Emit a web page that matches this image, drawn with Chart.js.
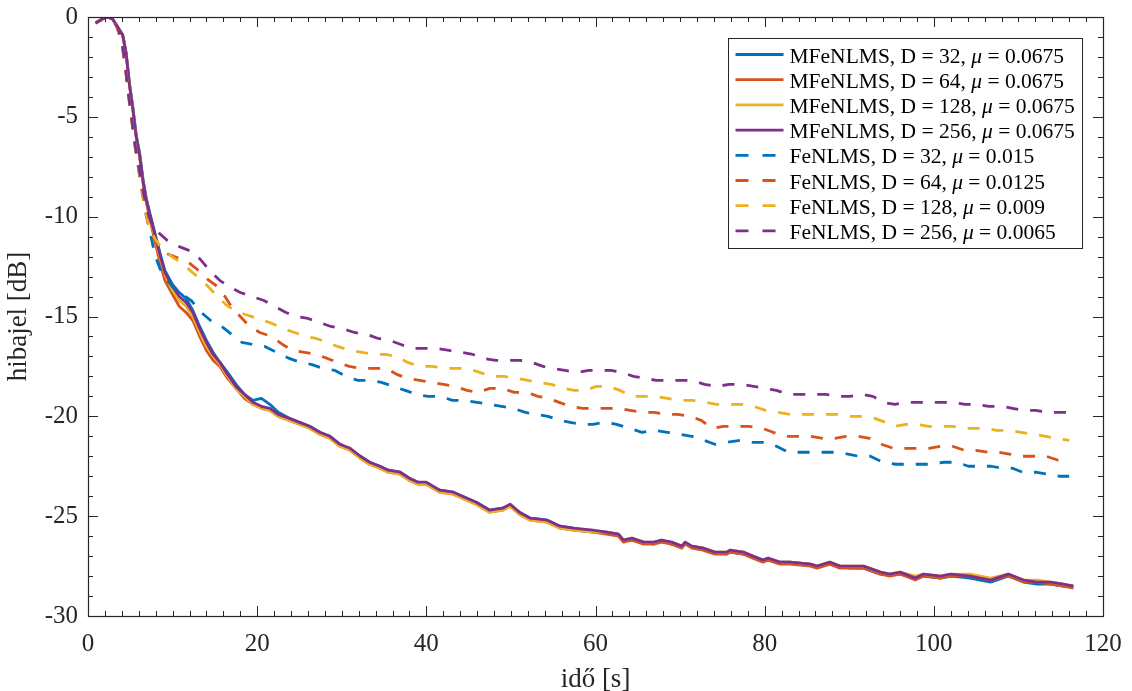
<!DOCTYPE html>
<html><head><meta charset="utf-8">
<script src="https://cdn.jsdelivr.net/npm/chart.js@4/dist/chart.umd.min.js"></script>
<style>html,body{margin:0;padding:0;background:#fff;overflow:hidden}canvas{display:block}</style>
</head><body>
<canvas id="c" width="1132" height="691"></canvas>
<script>
// ---- tick labels ----
const xTickLabels = [0, 20, 40, 60, 80, 100, 120];
const yTickLabels = [-30, -25, -20, -15, -10, -5, 0];

// ---- legend / series names ----
const seriesNames = ['MFeNLMS, D = 32, ', 'MFeNLMS, D = 64, ', 'MFeNLMS, D = 128, ', 'MFeNLMS, D = 256, ',
                     'FeNLMS, D = 32, ', 'FeNLMS, D = 64, ', 'FeNLMS, D = 128, ', 'FeNLMS, D = 256, '];
const seriesMu = ['0.0675', '0.0675', '0.0675', '0.0675', '0.015', '0.0125', '0.009', '0.0065'];
const seriesColors = ['#0072BD', '#D95319', '#EDB120', '#7E2F8E', '#0072BD', '#D95319', '#EDB120', '#7E2F8E'];

// ---- MFeNLMS (solid) : shared time axis [s], error [dB] ----
const tSolid = [0.9,1.7,2.3,2.9,3.5,4.1,4.5,4.9,5.3,5.7,6.1,6.5,6.9,7.3,7.9,8.5,9.1,10,10.8,11.6,12.4,13.2,14,14.8,15.6,16.5,17.5,18.5,19.5,20.5,21.5,22.5,23.8,25,26.2,27.4,28.6,29.8,31,32.2,33.3,34.5,35.5,36.9,38,39,40,41.6,43.2,44.8,45.9,47.5,49,49.9,51,52.3,54.3,55.8,57.4,59.7,61.3,62.7,63.3,64.3,65.7,66.9,67.8,69,70.2,70.6,71.4,72.7,74.1,75.5,75.9,77.5,78.6,79.8,80.4,81.8,83,85.4,86.2,87.7,88.9,90.1,91.7,93.7,94.8,96,97.8,98.8,100.8,102,104.3,106.7,108.8,110.6,112.2,113.8,115.3,116.5];
const mf32 = [-0.3,-0.1,0,-0.1,-0.5,-0.9,-1.8,-3.3,-4.5,-5.9,-6.8,-8.1,-9.1,-9.8,-10.8,-11.8,-12.7,-13.4,-13.8,-14.1,-14.7,-15.5,-16.2,-16.8,-17.3,-17.8,-18.4,-18.9,-19.2,-19.1,-19.4,-19.8,-20.1,-20.3,-20.5,-20.8,-21.0,-21.4,-21.7,-22.0,-22.3,-22.5,-22.7,-22.8,-23.1,-23.3,-23.4,-23.7,-23.8,-24.1,-24.3,-24.7,-24.6,-24.5,-24.8,-25.1,-25.2,-25.5,-25.6,-25.8,-25.8,-25.9,-26.2,-26.2,-26.3,-26.4,-26.2,-26.4,-26.5,-26.4,-26.5,-26.6,-26.8,-26.9,-26.8,-26.9,-27.0,-27.2,-27.2,-27.3,-27.3,-27.4,-27.5,-27.4,-27.5,-27.6,-27.6,-27.9,-27.9,-27.9,-28.1,-28.0,-28.1,-28.0,-28.1,-28.3,-28.0,-28.3,-28.4,-28.4,-28.5,-28.5];
const mf64 = [-0.3,-0.1,0,-0.1,-0.5,-0.9,-1.8,-3.4,-4.6,-6.0,-7.0,-8.3,-9.3,-10.1,-11.2,-12.3,-13.2,-13.9,-14.5,-14.8,-15.2,-16.0,-16.7,-17.2,-17.5,-18.1,-18.6,-19.1,-19.4,-19.6,-19.7,-20.0,-20.2,-20.4,-20.6,-20.9,-21.1,-21.5,-21.7,-22.1,-22.4,-22.6,-22.8,-22.9,-23.2,-23.4,-23.4,-23.8,-23.9,-24.2,-24.4,-24.8,-24.7,-24.5,-24.9,-25.2,-25.3,-25.6,-25.7,-25.8,-25.9,-26.0,-26.3,-26.2,-26.4,-26.4,-26.3,-26.4,-26.6,-26.4,-26.6,-26.7,-26.9,-26.9,-26.8,-26.9,-27.1,-27.3,-27.2,-27.4,-27.4,-27.5,-27.6,-27.4,-27.6,-27.6,-27.6,-27.9,-28.0,-27.9,-28.2,-28.0,-28.1,-28.0,-28.0,-28.2,-28.0,-28.3,-28.3,-28.4,-28.5,-28.6];
const mf128 = [-0.3,-0.1,0,-0.1,-0.5,-0.9,-1.8,-3.4,-4.6,-6.0,-6.9,-8.2,-9.2,-10.0,-11.0,-12.0,-12.9,-13.7,-14.2,-14.5,-15.0,-15.8,-16.5,-17.0,-17.4,-18.0,-18.6,-19.0,-19.4,-19.6,-19.7,-20.0,-20.2,-20.4,-20.6,-20.9,-21.1,-21.5,-21.7,-22.1,-22.4,-22.6,-22.8,-22.9,-23.2,-23.4,-23.4,-23.8,-23.9,-24.2,-24.4,-24.8,-24.7,-24.5,-24.9,-25.2,-25.3,-25.6,-25.7,-25.8,-25.8,-25.9,-26.2,-26.1,-26.3,-26.3,-26.2,-26.3,-26.5,-26.3,-26.5,-26.6,-26.8,-26.8,-26.7,-26.8,-27.0,-27.2,-27.1,-27.3,-27.3,-27.4,-27.5,-27.3,-27.5,-27.5,-27.5,-27.8,-27.9,-27.8,-28.0,-27.9,-28.0,-27.9,-27.9,-28.1,-27.9,-28.2,-28.2,-28.3,-28.4,-28.5];
const mf256 = [-0.3,-0.1,0,-0.1,-0.5,-0.9,-1.8,-3.4,-4.6,-6.0,-6.9,-8.2,-9.2,-9.9,-10.9,-11.9,-12.8,-13.5,-14.0,-14.3,-14.8,-15.6,-16.3,-16.9,-17.3,-17.9,-18.5,-18.9,-19.3,-19.5,-19.6,-19.9,-20.1,-20.3,-20.5,-20.8,-21.0,-21.4,-21.6,-22.0,-22.3,-22.5,-22.7,-22.8,-23.1,-23.3,-23.3,-23.7,-23.8,-24.1,-24.3,-24.7,-24.6,-24.4,-24.8,-25.1,-25.2,-25.5,-25.6,-25.7,-25.8,-25.9,-26.2,-26.1,-26.3,-26.3,-26.2,-26.3,-26.5,-26.3,-26.5,-26.6,-26.8,-26.8,-26.7,-26.8,-27.0,-27.2,-27.1,-27.3,-27.3,-27.4,-27.5,-27.3,-27.5,-27.5,-27.5,-27.8,-27.9,-27.8,-28.1,-27.9,-28.0,-27.9,-28.0,-28.2,-27.9,-28.2,-28.3,-28.3,-28.4,-28.5];

// ---- FeNLMS (dashed) ----
const tFe32 = [0.9,1.7,2.3,2.9,3.5,4.0,4.4,4.8,5.2,5.6,6.0,6.4,6.8,7.2,7.9,8.5,9.4,10.2,11.2,12.2,13.4,14.5,15.8,17,18.2,19.5,20.9,22.3,23.8,25.1,26.4,27.8,29.2,30.5,31.9,33.3,34.7,36.1,37.5,38.8,40.2,41.6,43.1,44.5,46,47.4,48.9,50.3,51.7,53,54.4,55.7,57,58.3,59.7,61.1,62.5,64,65.5,67,68.5,70,71.4,72.8,74.1,75.6,77.1,78.6,80,81.4,82.8,84.2,85.7,87.2,88.7,90,91.1,92.5,94,95.5,97,98.4,99.7,101.2,102.7,104.1,105.5,106.8,108,109.3,110.5,112,113.5,114.8,116];
const fe32 = [-0.3,-0.1,0,-0.1,-0.6,-1.2,-2.3,-3.8,-5.0,-6.3,-7.4,-8.6,-9.6,-10.5,-11.9,-12.6,-13.2,-13.6,-13.9,-14.2,-14.8,-15.2,-15.5,-15.9,-16.3,-16.4,-16.5,-16.8,-17.1,-17.3,-17.4,-17.6,-17.7,-18.0,-18.2,-18.2,-18.3,-18.5,-18.7,-18.9,-19.0,-19.0,-19.2,-19.2,-19.3,-19.4,-19.5,-19.6,-19.8,-19.9,-20.0,-20.2,-20.3,-20.4,-20.4,-20.3,-20.4,-20.6,-20.8,-20.7,-20.8,-20.9,-21.0,-21.2,-21.4,-21.3,-21.2,-21.3,-21.3,-21.5,-21.8,-21.8,-21.8,-21.8,-21.8,-21.9,-22.0,-22.0,-22.3,-22.4,-22.4,-22.4,-22.4,-22.3,-22.3,-22.5,-22.5,-22.5,-22.6,-22.6,-22.8,-22.8,-22.9,-23.0,-23.0];
const tFe64 = [0.9,1.7,2.3,2.9,3.5,4.0,4.4,4.8,5.2,5.6,6.0,6.4,6.8,7.2,7.9,8.5,9.0,10.2,11.6,12.8,14.0,15.3,16.2,17.1,18.0,18.9,20.3,21.7,23,24.2,25.6,27,28.3,29.5,30.9,32.3,33.8,35.3,36.5,37.8,39.2,40.6,42,43.4,44.8,46.1,47.5,48.9,50.4,51.9,53.2,54.4,55.7,57,58.5,59.9,61.3,62.7,64.1,65.5,66.9,68.2,69.7,71.2,72.5,73.8,75.1,76.5,78.1,79.7,81,82.4,83.9,85.4,86.9,88.3,89.6,91,92.4,93.8,95.2,96.7,98,99.4,100.8,102.2,103.6,105,106.4,107.7,109.1,110.5,111.9,113.3,114.7,116];
const fe64 = [-0.3,-0.1,0,-0.1,-0.6,-1.3,-2.5,-4.0,-5.3,-6.6,-7.7,-8.8,-9.8,-10.5,-11.2,-11.6,-11.8,-12.0,-12.2,-12.6,-13.1,-13.5,-14.0,-14.6,-15.0,-15.4,-15.8,-16.0,-16.4,-16.7,-16.8,-16.9,-17.1,-17.3,-17.5,-17.6,-17.6,-17.6,-17.9,-18.1,-18.2,-18.3,-18.4,-18.5,-18.7,-18.8,-18.6,-18.6,-18.8,-18.8,-19.0,-19.1,-19.3,-19.5,-19.6,-19.6,-19.6,-19.6,-19.7,-19.8,-19.8,-19.9,-19.9,-20.0,-20.2,-20.6,-20.5,-20.5,-20.5,-20.6,-20.8,-21.0,-21.0,-21.0,-21.1,-21.1,-21.0,-21.0,-21.1,-21.4,-21.6,-21.6,-21.6,-21.6,-21.5,-21.5,-21.7,-21.7,-21.8,-21.8,-21.9,-22.0,-22.0,-22.0,-22.2,-22.3];
const tFe128 = [0.9,1.7,2.3,2.9,3.5,4.0,4.4,4.8,5.2,5.6,6.0,6.4,6.8,7.2,7.9,8.8,9.9,11,12.1,13.2,14.2,15.3,16.3,17.3,18.6,20,21.5,23,24.4,25.8,27,28.3,29.5,31,32.4,33.9,35.2,36.5,37.8,39.2,40.7,42.2,43.5,44.9,46.3,47.7,49.2,50.7,52,53.4,54.8,56.2,57.5,58.8,60.1,61.5,62.9,64.3,65.7,67,68.5,70,71.5,73,74.3,75.7,77.2,78.7,80.1,81.5,83,84.4,85.8,87.2,88.7,90.1,91.5,93,94.3,95.4,96.7,98,99.4,100.8,102.2,103.5,104.8,106,107.4,108.8,110.3,111.8,113.2,114.5,116];
const fe128 = [-0.3,-0.1,0,-0.1,-0.6,-1.3,-2.4,-3.9,-5.2,-6.5,-7.6,-8.7,-9.7,-10.4,-11.1,-11.6,-12.0,-12.3,-12.7,-13.1,-13.5,-14.0,-14.4,-14.7,-14.9,-15.1,-15.3,-15.6,-15.8,-16.0,-16.1,-16.3,-16.5,-16.7,-16.8,-16.9,-16.9,-17.0,-17.3,-17.5,-17.5,-17.6,-17.6,-17.6,-17.8,-18.0,-18.0,-18.1,-18.2,-18.3,-18.4,-18.6,-18.7,-18.7,-18.5,-18.5,-18.7,-19.0,-19.0,-19.0,-19.1,-19.2,-19.2,-19.3,-19.4,-19.4,-19.4,-19.5,-19.7,-19.8,-19.9,-19.9,-19.9,-19.9,-19.9,-20.0,-20.0,-20.1,-20.3,-20.5,-20.4,-20.4,-20.5,-20.5,-20.5,-20.6,-20.6,-20.6,-20.7,-20.7,-20.8,-20.9,-21.0,-21.1,-21.2];
const tFe256 = [0.9,1.7,2.3,2.9,3.5,4.0,4.4,4.8,5.2,5.6,6.0,6.4,6.8,7.2,7.8,8.6,9.4,10.2,11.4,12.6,13.6,14.6,15.6,16.7,18,19.4,20.8,22.1,23.4,24.7,26,27.4,28.7,30,31.5,33,34.3,35.7,37,38.3,39.8,41.2,42.7,44.2,45.5,46.7,48.2,49.7,51.1,52.5,53.8,55,56.4,57.8,59.2,60.5,61.8,63.1,64.5,65.9,67.2,68.6,70,71.4,72.9,74.4,75.8,77.3,78.7,80,81.4,82.8,84.3,85.7,87.2,88.6,90,91.5,92.8,94,95.4,96.8,98.2,99.5,100.9,102.3,103.7,105.1,106.5,108,109.3,110.5,112,113.5,114.8,116];
const fe256 = [-0.3,-0.1,0,-0.1,-0.5,-1.2,-2.4,-3.9,-5.2,-6.5,-7.5,-8.5,-9.3,-10.0,-10.6,-10.9,-11.2,-11.4,-11.6,-11.8,-12.3,-12.8,-13.2,-13.5,-13.8,-14.0,-14.2,-14.5,-14.8,-15.0,-15.1,-15.3,-15.5,-15.6,-15.8,-15.9,-16.1,-16.2,-16.4,-16.6,-16.6,-16.6,-16.7,-16.8,-16.9,-17.1,-17.2,-17.2,-17.2,-17.3,-17.5,-17.6,-17.7,-17.8,-17.7,-17.7,-17.7,-17.8,-18.0,-18.1,-18.2,-18.2,-18.2,-18.2,-18.4,-18.5,-18.4,-18.4,-18.5,-18.6,-18.7,-18.9,-18.9,-18.9,-18.9,-19.0,-19.0,-18.9,-19.0,-19.3,-19.4,-19.3,-19.3,-19.3,-19.3,-19.3,-19.4,-19.4,-19.5,-19.5,-19.6,-19.7,-19.7,-19.8,-19.8,-19.8];

const FONT = 'Liberation Serif';
const AXIS_COLOR = '#262626';
const DASH = [12, 12];
const LEG_FONT = 21.5;

function pts(ts, vs) { return ts.map((t, i) => ({ x: t, y: vs[i] })); }

const seriesData = [
  pts(tSolid, mf32), pts(tSolid, mf64), pts(tSolid, mf128), pts(tSolid, mf256),
  pts(tFe32, fe32), pts(tFe64, fe64), pts(tFe128, fe128), pts(tFe256, fe256)
];

const datasets = seriesData.map((d, i) => ({
  label: seriesNames[i] + 'μ = ' + seriesMu[i],
  data: d,
  borderColor: seriesColors[i],
  backgroundColor: seriesColors[i],
  borderWidth: 2.8,
  borderDash: i >= 4 ? DASH : [],
  pointRadius: 0,
  fill: false,
  tension: 0,
  order: 8 - i
}));

const framePlugin = {
  id: 'frame',
  afterDatasetsDraw(chart) {
    const { ctx, scales: { x, y } } = chart;
    const L = x.getPixelForValue(x.min), R = x.getPixelForValue(x.max);
    const T = y.getPixelForValue(y.max), B = y.getPixelForValue(y.min);
    ctx.save();
    ctx.strokeStyle = AXIS_COLOR;
    ctx.lineWidth = 1;
    ctx.beginPath();
    for (let v = x.min; v <= x.max + 1e-9; v += 2) {
      const px = Math.round(x.getPixelForValue(v)) + 0.5;
      const len = (v % 20 === 0) ? 10 : 5;
      ctx.moveTo(px, B); ctx.lineTo(px, B - len);
      ctx.moveTo(px, T); ctx.lineTo(px, T + len);
    }
    for (let v = y.min; v <= y.max + 1e-9; v += 1) {
      const py = Math.round(y.getPixelForValue(v)) + 0.5;
      const len = (v % 5 === 0) ? 10 : 5;
      ctx.moveTo(L, py); ctx.lineTo(L + len, py);
      ctx.moveTo(R, py); ctx.lineTo(R - len, py);
    }
    ctx.stroke();
    ctx.lineWidth = 1.2;
    ctx.strokeRect(Math.round(L) + 0.5, Math.round(T) + 0.5, Math.round(R - L), Math.round(B - T));

    // legend
    const lw = 354, lh = 210;
    const lx = Math.round(R - 375) + 0.5, ly = Math.round(T + 21) + 0.5;
    ctx.fillStyle = '#fff';
    ctx.fillRect(lx, ly, lw, lh);
    ctx.strokeStyle = AXIS_COLOR;
    ctx.lineWidth = 1;
    ctx.strokeRect(lx, ly, lw, lh);
    for (let i = 0; i < datasets.length; i++) {
      const cy = ly + 16 + i * 25.2;
      ctx.beginPath();
      ctx.strokeStyle = seriesColors[i];
      ctx.lineWidth = 2.8;
      ctx.setLineDash(i >= 4 ? [13, 14] : []);
      ctx.moveTo(lx + 7, cy); ctx.lineTo(lx + 55, cy);
      ctx.stroke();
      ctx.setLineDash([]);
      let tx = lx + 61;
      const ty = cy + 2.5;
      ctx.fillStyle = '#000';
      ctx.textBaseline = 'middle';
      ctx.textAlign = 'left';
      ctx.font = LEG_FONT + 'px "' + FONT + '"';
      ctx.fillText(seriesNames[i], tx, ty);
      tx += ctx.measureText(seriesNames[i]).width;
      ctx.font = 'italic ' + LEG_FONT + 'px "' + FONT + '"';
      ctx.fillText('μ', tx, ty);
      tx += ctx.measureText('μ').width;
      ctx.font = LEG_FONT + 'px "' + FONT + '"';
      ctx.fillText(' = ' + seriesMu[i], tx, ty);
    }
    ctx.restore();
  }
};

function build() {
  new Chart(document.getElementById('c'), {
    type: 'line',
    data: { datasets },
    plugins: [framePlugin],
    options: {
      responsive: false,
      animation: false,
      devicePixelRatio: 1,
      layout: { padding: { top: 17, right: 29, left: 0, bottom: 0 } },
      plugins: { legend: { display: false }, tooltip: { enabled: false } },
      elements: { point: { radius: 0 }, line: { borderJoinStyle: 'round' } },
      scales: {
        x: {
          type: 'linear', min: 0, max: 120,
          afterBuildTicks: s => { s.ticks = xTickLabels.map(v => ({ value: v })); },
          afterFit: s => { s.height = 75; s.paddingLeft = 0; s.paddingRight = 0; },
          grid: { display: true, drawOnChartArea: false, drawTicks: false },
          border: { display: false },
          ticks: { autoSkip: false, maxRotation: 0, padding: 13, color: AXIS_COLOR,
                   font: { family: FONT, size: 25 }, callback: v => String(v) },
          title: { display: true, text: 'idő [s]', color: AXIS_COLOR,
                   font: { family: FONT, size: 27, lineHeight: 0.85 }, padding: { top: 0, bottom: 0 } }
        },
        y: {
          type: 'linear', min: -30, max: 0,
          afterBuildTicks: s => { s.ticks = yTickLabels.map(v => ({ value: v })); },
          afterFit: s => { s.width = 88; s.paddingTop = 0; s.paddingBottom = 0; },
          grid: { display: true, drawOnChartArea: false, drawTicks: false },
          border: { display: false },
          ticks: { autoSkip: false, padding: 10, color: AXIS_COLOR,
                   font: { family: FONT, size: 25 }, callback: v => String(v) },
          title: { display: true, text: 'hibajel [dB]', color: AXIS_COLOR,
                   font: { family: FONT, size: 27, lineHeight: 1 }, padding: { top: 5, bottom: 0 } }
        }
      }
    }
  });
}

if (document.fonts && document.fonts.load) {
  Promise.all([
    document.fonts.load('25px "' + FONT + '"'),
    document.fonts.load('italic 22px "' + FONT + '"')
  ]).then(build, build);
} else { build(); }
</script>
</body></html>
